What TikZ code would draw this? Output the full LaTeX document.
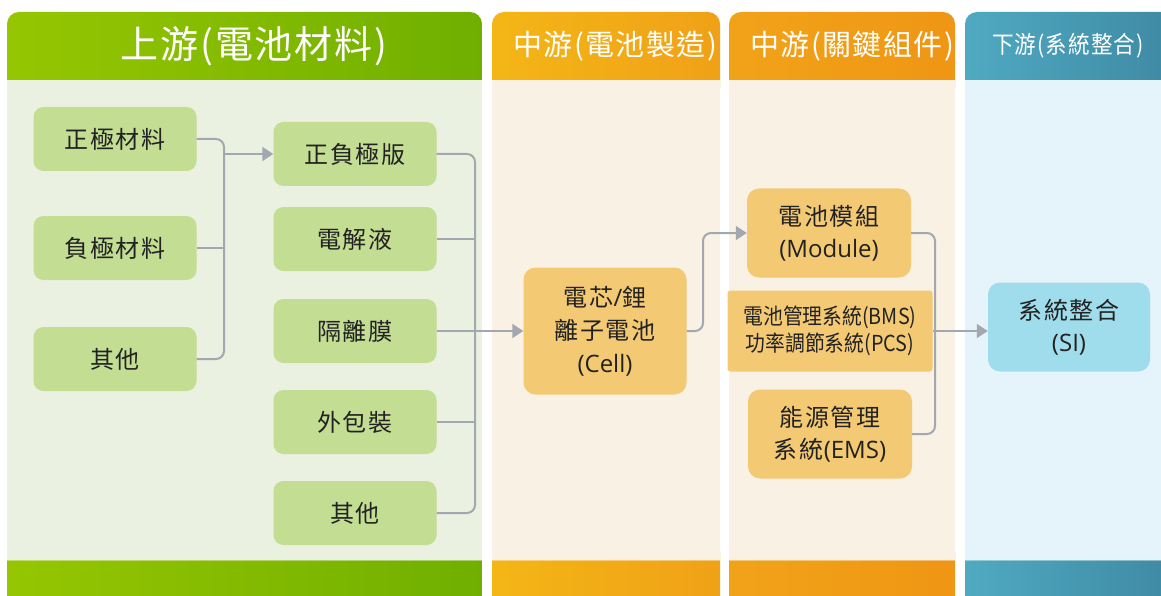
\documentclass[tikz,border=0pt]{standalone}
\usepackage{fontspec}
\setmainfont{Noto Sans CJK TC}
\newfontfamily\boxfont[LetterSpace=8]{Noto Sans CJK TC}
\newfontfamily\hdrfont[LetterSpace=5]{Noto Sans CJK TC}
\newfontfamily\latfont{Open Sans}
\newcommand{\lt}[1]{{\latfont #1}}
\usetikzlibrary{arrows.meta}
\definecolor{gA}{HTML}{96C601}
\definecolor{gB}{HTML}{70AF00}
\definecolor{gBody}{HTML}{EBF1E1}
\definecolor{oA}{HTML}{F4B616}
\definecolor{oB}{HTML}{F0A117}
\definecolor{oC}{HTML}{F1A318}
\definecolor{oD}{HTML}{EF9614}
\definecolor{oBody}{HTML}{F9F1E3}
\definecolor{bA}{HTML}{4FAAC1}
\definecolor{bB}{HTML}{3F89A4}
\definecolor{bBody}{HTML}{E5F3FA}
\definecolor{gBox}{HTML}{C3DD93}
\definecolor{oBox}{HTML}{F3C974}
\definecolor{cBox}{HTML}{9FDDEC}
\definecolor{lineC}{HTML}{A3A8B0}
\definecolor{txt}{HTML}{222222}
\tikzset{
  gbox/.style={fill=gBox, rounded corners=10pt, minimum width=163pt, minimum height=64pt, inner sep=0pt, text=txt, font=\boxfont\fontsize{24}{28}\selectfont, align=center},
  obox/.style={fill=oBox, rounded corners=12pt, minimum width=164pt, minimum height=89pt, inner sep=0pt, text=txt, font=\boxfont\fontsize{24}{32}\selectfont, align=center},
  conn/.style={draw=lineC, line width=2pt, rounded corners=8pt},
  arr/.style={conn, -{Triangle[length=11pt,width=14pt]}},
  hdr/.style={text=white, inner sep=0pt}
}
\begin{document}
\begin{tikzpicture}[x=1pt,y=-1pt]
\useasboundingbox (0,0) rectangle (1161,596);
% column headers and footers
\shade[left color=gA,right color=gB,rounded corners=12pt] (7,12) rectangle (482,100);
\shade[left color=gA,right color=gB,rounded corners=12pt] (7,540) rectangle (482,610);
\shade[left color=oA,right color=oB,rounded corners=12pt] (492,12) rectangle (720,100);
\shade[left color=oA,right color=oB,rounded corners=12pt] (492,540) rectangle (720,610);
\shade[left color=oC,right color=oD,rounded corners=12pt] (729,12) rectangle (955,100);
\shade[left color=oC,right color=oD,rounded corners=12pt] (729,540) rectangle (955,610);
\shade[left color=bA,right color=bB,rounded corners=12pt] (965,12) rectangle (1175,100);
\shade[left color=bA,right color=bB,rounded corners=12pt] (965,540) rectangle (1175,610);
% bodies
\fill[gBody] (7,80) rectangle (482,560);
\fill[oBody] (492,80) rectangle (720,560);
\fill[oBody] (729,80) rectangle (955,560);
\fill[bBody] (965,80) rectangle (1175,560);
\draw[white,opacity=0.4,line width=1pt] (7,560.5) -- (482,560.5) (492,560.5) -- (720,560.5) (729,560.5) -- (955,560.5) (965,560.5) -- (1161,560.5);
% header texts
\node[hdr,font=\hdrfont\fontsize{38}{40}\selectfont] (h1) at (254,46) {上游(電池材料)};
\node[hdr,font=\hdrfont\fontsize{29}{32}\selectfont] (h2) at (615,46) {中游(電池製造)};
\node[hdr,font=\hdrfont\fontsize{29}{32}\selectfont] (h3) at (852,46) {中游(關鍵組件)};
\node[hdr,font=\hdrfont\fontsize{24}{28}\selectfont] (h4) at (1068,46) {\scalebox{0.9}[1]{下游(系統整合)}};
% boxes
\node[gbox] (a1) at (115,139) {正極材料};
\node[gbox] (a2) at (115,248) {負極材料};
\node[gbox] (a3) at (115,359) {其他};
\node[gbox] (b1) at (355,154) {正負極版};
\node[gbox] (b2) at (355,239) {電解液};
\node[gbox] (b3) at (355,331) {隔離膜};
\node[gbox] (b4) at (355,422) {外包裝};
\node[gbox] (b5) at (355,513) {其他};
\node[obox, minimum width=163pt, minimum height=127pt, font=\boxfont\fontsize{24}{33}\selectfont] (cell) at (605,331) {電芯\lt{/}鋰\\離子電池\\\lt{(Cell)}};
\node[obox] (mod) at (829,233) {電池模組\\\lt{(Module)}};
\node[obox, rounded corners=3pt, minimum width=205pt, minimum height=81pt, font=\fontsize{22}{27}\selectfont] (bms) at (830,331) {\scalebox{0.9}[1]{電池管理系統(BMS)}\\\scalebox{0.9}[1]{功率調節系統(PCS)}};
\node[obox] (ems) at (830,434) {能源管理\\系統\lt{(EMS)}};
\node[obox, fill=cBox, minimum width=162pt] (si) at (1069,327) {系統整合\\\lt{(SI)}};
% junction coordinates
\coordinate (j1) at (224,250);
\coordinate (j2) at (475,330);
\coordinate (j3) at (703,280);
\coordinate (j4) at (935,331);
% connectors
\draw[conn] (a1.east) -| (j1) |- (a3.east);
\draw[conn] (a2.east) -- (a2.east -| j1);
\draw[arr] (j1 |- b1.west) -- (b1.west);
\draw[conn] (b1.east) -| (j2) |- (b5.east);
\draw[conn] (b2.east) -- (b2.east -| j2);
\draw[conn] (b4.east) -- (b4.east -| j2);
\draw[arr] (b3.east) -- (cell.west);
\draw[arr] (cell.east) -| (j3) |- (mod.west);
\draw[conn] (mod.east) -| (j4) |- (ems.east);
\draw[arr] (bms.east) -- (bms.east -| si.west);
\end{tikzpicture}
\end{document}
